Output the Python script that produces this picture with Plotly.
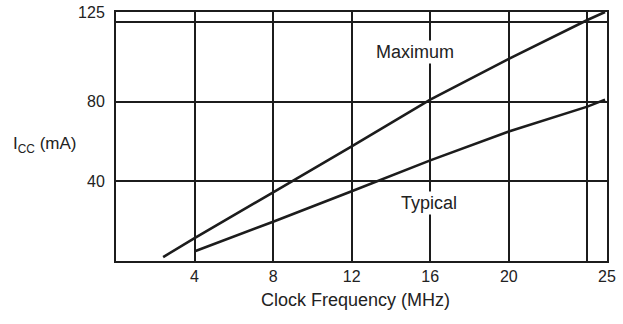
import plotly.graph_objects as go

# Supply current versus clock frequency
max_freq = [2.4, 4, 8, 12, 16, 20, 24, 24.9]
max_icc = [2.0, 11.5, 34.5, 57.5, 81.0, 101.5, 121.0, 125.0]

typ_freq = [4.05, 8, 12, 16, 20, 24, 24.9]
typ_icc = [5.0, 19.7, 35.0, 50.5, 65.0, 77.5, 81.0]

x_ticks = [4, 8, 12, 16, 20, 25]
x_grid_extra = [24]
y_ticks = [40, 80, 125]
y_grid_extra = [120]

INK = "#1c1c1c"
FONT = "Liberation Sans, Arial, Helvetica, sans-serif"

fig = go.Figure()
fig.add_trace(go.Scatter(x=max_freq, y=max_icc, mode="lines",
                         line=dict(color=INK, width=2.6), showlegend=False))
fig.add_trace(go.Scatter(x=typ_freq, y=typ_icc, mode="lines",
                         line=dict(color=INK, width=2.6), showlegend=False))

axis_common = dict(
    showline=True, mirror=True, linecolor=INK, linewidth=2,
    showgrid=True, gridcolor=INK, gridwidth=2, zeroline=False,
    ticks="", tickfont=dict(family=FONT, size=16, color="#222"),
    automargin=False,
)

fig.update_xaxes(range=[0, 25], tickmode="array", tickvals=x_ticks,
                 ticktext=[str(v) for v in x_ticks], ticklabelstandoff=0,
                 minor=dict(tickmode="array", tickvals=x_grid_extra,
                            showgrid=True, gridcolor=INK, gridwidth=2),
                 **axis_common)
fig.update_yaxes(range=[0, 125], tickmode="array", tickvals=y_ticks,
                 ticktext=[str(v) for v in y_ticks], ticklabelstandoff=6,
                 minor=dict(tickmode="array", tickvals=y_grid_extra,
                            showgrid=True, gridcolor=INK, gridwidth=2),
                 **axis_common)

fig.add_annotation(x=15.2, y=105, text="Maximum", showarrow=False,
                   xanchor="center", yanchor="middle",
                   bgcolor="white", font=dict(family=FONT, size=18, color="#222"))
fig.add_annotation(x=15.95, y=29, text="Typical", showarrow=False,
                   xanchor="center", yanchor="middle",
                   bgcolor="white", font=dict(family=FONT, size=18, color="#222"))

fig.add_annotation(xref="paper", yref="paper", x=-0.145, y=0.465,
                   xanchor="center", yanchor="middle",
                   text="I<sub>CC</sub> (mA)", showarrow=False,
                   font=dict(family=FONT, size=17, color="#222"))
fig.add_annotation(xref="paper", yref="paper", x=0.487, y=-0.158,
                   xanchor="center", yanchor="middle",
                   text="Clock Frequency (MHz)", showarrow=False,
                   font=dict(family=FONT, size=18, color="#222"))

fig.update_layout(
    width=623, height=324,
    margin=dict(l=116, r=16, t=12, b=63),
    paper_bgcolor="white", plot_bgcolor="white",
)

fig.write_html("out.html")
